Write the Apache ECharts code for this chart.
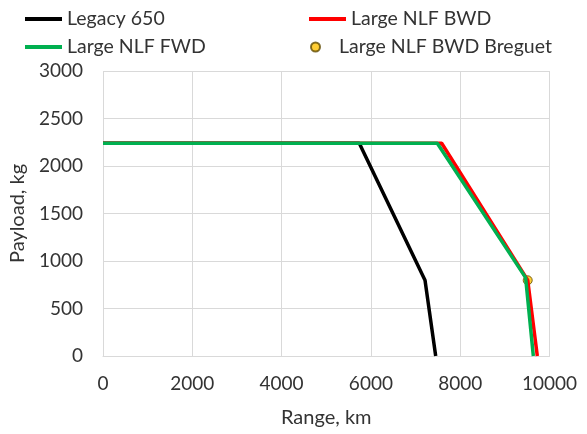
<!DOCTYPE html>
<html>
<head>
<meta charset="utf-8">
<script src="https://cdn.jsdelivr.net/npm/echarts@6/dist/echarts.min.js"></script>
<style>
  html, body { margin: 0; padding: 0; background: #fff; }
  #chart { width: 587px; height: 434px; }
</style>
</head>
<body>
<div id="chart"></div>
<script>
// Payload-range diagrams: [range km, payload kg]
const legacy650 = [[0, 2240], [5740, 2240], [7212, 797], [7451, 0]];
const largeNlfBwd = [[0, 2240], [7585, 2240], [9512, 797], [9727, 0]];
const largeNlfFwd = [[0, 2240], [7487, 2240], [9465, 825], [9638, 0]];
const largeNlfBwdBreguet = [[9512, 797]];

const seriesNames = ['Legacy 650', 'Large NLF BWD', 'Large NLF FWD', 'Large NLF BWD Breguet'];

const FONT = 'Lato';
const TEXT = '#333333';
const GRIDC = '#D9D9D9';

const chart = echarts.init(document.getElementById('chart'), null, { renderer: 'canvas' });

const legendBase = {
  orient: 'horizontal',
  itemWidth: 37,
  itemHeight: 4,
  textStyle: { fontFamily: FONT, fontSize: 19.5, color: TEXT },
  selectedMode: false
};

chart.setOption({
  animation: false,
  backgroundColor: '#fff',
  textStyle: { fontFamily: FONT },
  grid: { left: 103, right: 37.5, top: 71, bottom: 78 },
  legend: [
    Object.assign({}, legendBase, { data: [{ name: seriesNames[0], icon: 'rect' }], left: 20, top: 4 }),
    Object.assign({}, legendBase, { data: [{ name: seriesNames[1], icon: 'rect' }], left: 304, top: 4 }),
    Object.assign({}, legendBase, { data: [{ name: seriesNames[2], icon: 'rect' }], left: 20, top: 32 }),
    Object.assign({}, legendBase, { data: [{ name: seriesNames[3], icon: 'circle' }], left: 305, top: 32, itemHeight: 9 })
  ],
  xAxis: {
    type: 'value',
    min: 0, max: 10000, interval: 2000,
    name: 'Range, km',
    nameLocation: 'middle',
    nameGap: 52,
    nameTextStyle: { fontFamily: FONT, fontSize: 20, color: TEXT },
    axisLine: { show: true, lineStyle: { color: GRIDC, width: 1 } },
    axisTick: { show: false },
    axisLabel: { fontFamily: FONT, fontSize: 19, color: TEXT, margin: 18, formatter: v => String(v) },
    splitLine: { show: true, lineStyle: { color: GRIDC, width: 1 } }
  },
  yAxis: {
    type: 'value',
    min: 0, max: 3000, interval: 500,
    name: 'Payload, kg',
    nameLocation: 'middle',
    nameGap: 72,
    nameTextStyle: { fontFamily: FONT, fontSize: 20, color: TEXT },
    axisLine: { show: false },
    axisTick: { show: false },
    axisLabel: { fontFamily: FONT, fontSize: 19, color: TEXT, margin: 20, formatter: v => String(v) },
    splitLine: { show: true, lineStyle: { color: GRIDC, width: 1 } }
  },
  series: [
    {
      name: seriesNames[0], type: 'line', data: legacy650,
      symbol: 'none', lineStyle: { color: '#000000', width: 3.5 }, itemStyle: { color: '#000000' }
    },
    {
      name: seriesNames[1], type: 'line', data: largeNlfBwd,
      symbol: 'none', lineStyle: { color: '#FF0000', width: 3.5 }, itemStyle: { color: '#FF0000' }
    },
    {
      name: seriesNames[2], type: 'line', data: largeNlfFwd,
      symbol: 'none', lineStyle: { color: '#00B050', width: 3.5 }, itemStyle: { color: '#00B050' }
    },
    {
      name: seriesNames[3], type: 'scatter', data: largeNlfBwdBreguet,
      symbol: 'circle', symbolSize: 9,
      itemStyle: { color: '#FFC000', borderColor: '#5F4A00', borderWidth: 1 }
    }
  ]
});
</script>
</body>
</html>
